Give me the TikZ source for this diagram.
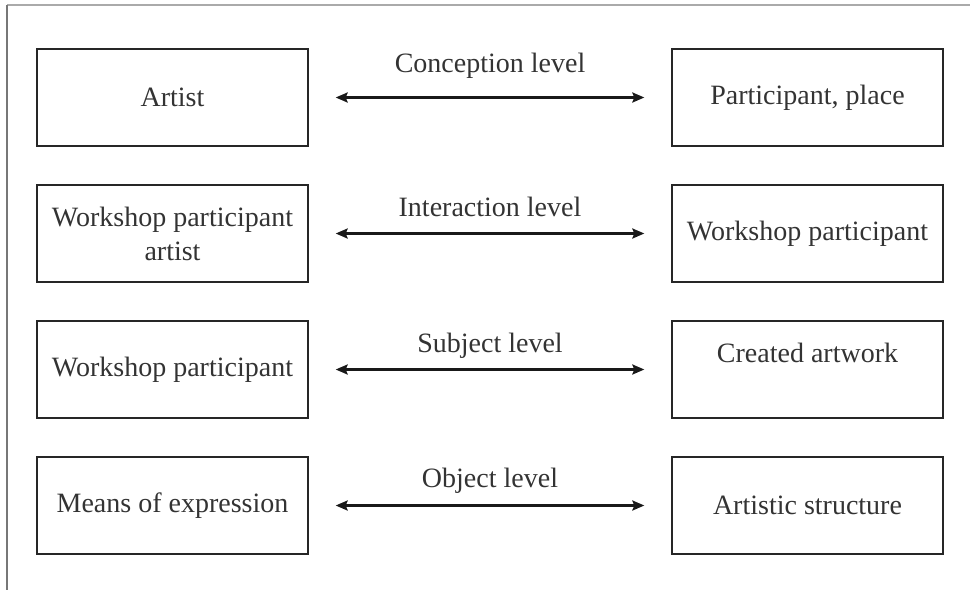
\documentclass[tikz,border=0pt]{standalone}
\usepackage{fontspec}
\setmainfont{Liberation Serif}
\usetikzlibrary{arrows.meta}
\definecolor{txt}{HTML}{333333}
\definecolor{frametop}{HTML}{AAAAAA}
\definecolor{frameleft}{HTML}{777777}
\tikzset{
  box/.style={draw=black!85, line width=1.3pt, minimum width=271pt, minimum height=97pt,
    inner sep=0pt, align=center, text=txt, font=\fontsize{28}{34}\selectfont},
  lbl/.style={anchor=base, text=txt, font=\fontsize{28}{34}\selectfont},
  conn/.style={{Stealth[length=12pt,width=10pt,inset=2pt]}-{Stealth[length=12pt,width=10pt,inset=2pt]},
    line width=2.6pt, black!90, shorten <=27pt, shorten >=27pt}
}
\begin{document}
\begin{tikzpicture}[x=1pt,y=-1pt]
\useasboundingbox (0,0) rectangle (970,590);
\coordinate (ftl) at (7,5);
\coordinate (ftr) at (970,5);
\coordinate (fbl) at (7,590);
\draw[frametop, line width=2pt] (ftl) -- (ftr);
\draw[frameleft, line width=1.5pt] (ftl) -- (fbl);

\node[box] (l1) at (172.5,97.5) {Artist};
\node[box] (r1) at (807.5,97.5) {Participant, place};
\node[box] (l2) at (172.5,233.5) {Workshop participant\\artist};
\node[box] (r2) at (807.5,233.5) {Workshop participant};
\node[box] (l3) at (172.5,369.5) {Workshop participant};
\node[box] (r3) at (807.5,369.5) {Created artwork\\\mbox{}};
\node[box] (l4) at (172.5,505.5) {Means of expression};
\node[box] (r4) at (807.5,505.5) {Artistic structure};

\draw[conn] (l1) -- node[lbl, yshift=25pt] (t1) {Conception level} (r1);
\draw[conn] (l2) -- node[lbl, yshift=17pt] (t2) {Interaction level} (r2);
\draw[conn] (l3) -- node[lbl, yshift=17pt] (t3) {Subject level} (r3);
\draw[conn] (l4) -- node[lbl, yshift=18pt] (t4) {Object level} (r4);
\end{tikzpicture}
\end{document}
